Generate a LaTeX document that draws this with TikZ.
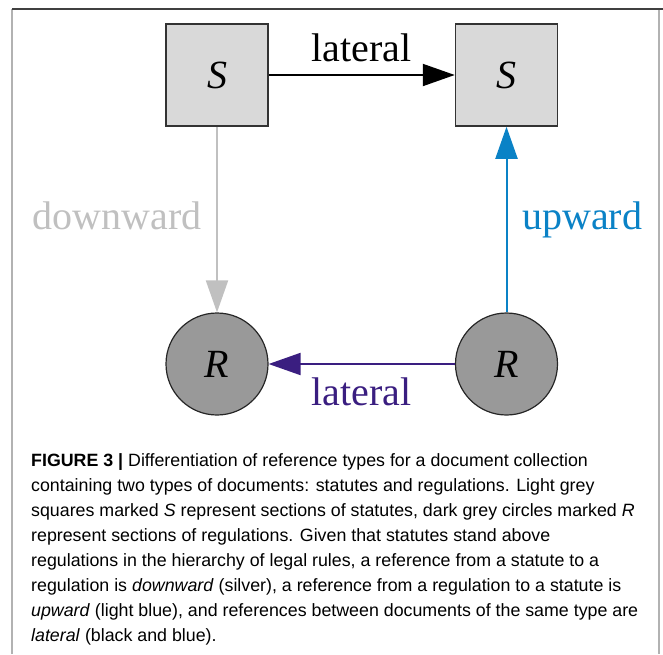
\documentclass[tikz,border=0pt]{standalone}
\usepackage{fontspec}
\setmainfont{Liberation Serif}
\newfontfamily\captionfont{Liberation Sans}
\usetikzlibrary{arrows.meta}
\definecolor{silvergrey}{RGB}{192,192,192}
\definecolor{upblue}{RGB}{10,130,198}
\definecolor{latpurple}{RGB}{58,30,128}
\tikzset{
  statbox/.style={draw=black!80, line width=1.5pt, fill=black!15, minimum size=102pt, inner sep=0pt, font=\fontsize{40}{40}\selectfont\itshape},
  regcircle/.style={circle, draw=black!85, line width=1.2pt, fill=black!40, minimum size=102pt, inner sep=0pt, font=\fontsize{40}{40}\selectfont\itshape},
  refarrow/.style={line width=2pt, -{Triangle[length=32pt,width=22pt]}},
  edgelabel/.style={inner sep=0pt, font=\fontsize{40}{40}\selectfont}
}
\begin{document}
\begin{tikzpicture}[x=1pt,y=-1pt]
	\useasboundingbox (0,0) rectangle (663,654);
	\draw[black!30, line width=1.5pt] (12,654) -- (12,9);
	\draw[black!30, line width=1.5pt] (659,9) -- (659,654);
	\draw[black!75, line width=1.5pt] (12,9) -- (663,9);

	\node[statbox] (s1) at (217,75) {S};
	\node[statbox] (s2) at (506.5,75) {S};
	\node[regcircle] (r1) at (217,364) {R};
	\node[regcircle] (r2) at (506.5,364) {R};

	\draw[refarrow, black] (s1) -- (s2);
	\draw[refarrow, silvergrey] (s1) -- (r1);
	\draw[refarrow, upblue] (r2) -- (s2);
	\draw[refarrow, latpurple] (r2) -- (r1);

	\node[edgelabel, anchor=base] (toplat) at (361.5,61) {lateral};
	\node[edgelabel, anchor=base east, text=silvergrey] (down) at (202,229) {downward};
	\node[edgelabel, anchor=base west, text=upblue] (up) at (522,229) {upward};
	\node[edgelabel, anchor=base, text=latpurple] (botlat) at (361.5,405) {lateral};

	\node[anchor=north west, inner sep=0pt, align=left, font=\captionfont\fontsize{17.8}{25}\selectfont] (caption) at (31,453.5) {\textbf{FIGURE 3 |} Differentiation of reference types for a document collection\\
containing two types of documents: statutes and regulations. Light grey\\
squares marked \textit{S} represent sections of statutes, dark grey circles marked \textit{R}\\
represent sections of regulations. Given that statutes stand above\\
regulations in the hierarchy of legal rules, a reference from a statute to a\\
regulation is \textit{downward} (silver), a reference from a regulation to a statute is\\
\textit{upward} (light blue), and references between documents of the same type are\\
\textit{lateral} (black and blue).};
\end{tikzpicture}
\end{document}
